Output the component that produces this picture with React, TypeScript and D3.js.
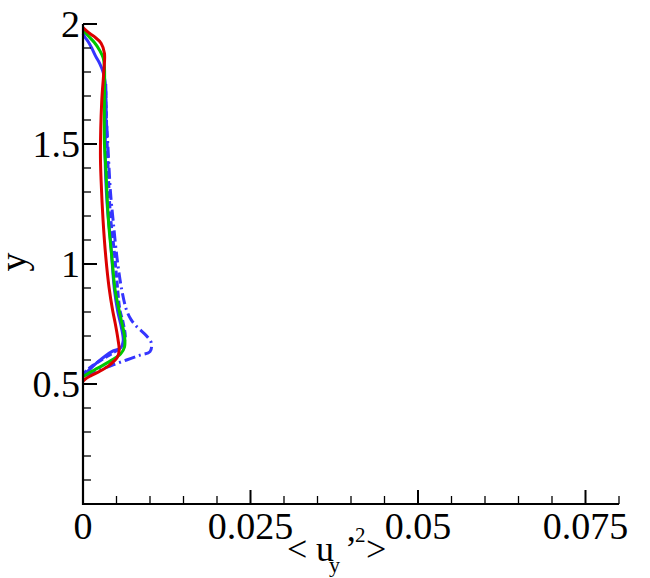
import React, { useRef, useEffect } from 'react';
import * as d3 from 'd3';

// profiles of <u_y'^2> against y
const redSolid: [number, number][] = [
  [0, 1.985], [0.0008, 1.965], [0.0017, 1.947], [0.0027, 1.92], [0.0032, 1.878],
  [0.0031, 1.8], [0.0028, 1.68], [0.0026, 1.46], [0.0027, 1.35], [0.003, 1.18],
  [0.0034, 1.03], [0.0039, 0.9], [0.0044, 0.81], [0.0048, 0.754], [0.0052, 0.69],
  [0.0054, 0.64], [0.0051, 0.61], [0.004, 0.58], [0.0025, 0.553], [0.0012, 0.535],
  [0.0004, 0.522], [0, 0.512],
];
const greenSolid: [number, number][] = [
  [0, 1.975], [0.0008, 1.95], [0.0017, 1.923], [0.0025, 1.89], [0.003, 1.86],
  [0.0032, 1.82], [0.0032, 1.7], [0.0032, 1.5], [0.0034, 1.4], [0.0038, 1.18],
  [0.0043, 1.03], [0.0048, 0.89], [0.0053, 0.82], [0.0057, 0.767], [0.0062, 0.7],
  [0.0062, 0.655], [0.0056, 0.625], [0.0036, 0.588], [0.0018, 0.56], [0.0008, 0.545],
  [0, 0.53],
];
const blueSolid: [number, number][] = [
  [0, 1.96], [0.0003, 1.945], [0.0008, 1.925], [0.0013, 1.9], [0.0019, 1.865],
  [0.0025, 1.835], [0.003, 1.8], [0.0033, 1.76], [0.0034, 1.72], [0.0034, 1.6],
  [0.0033, 1.45], [0.0036, 1.25], [0.0041, 1.1], [0.0047, 0.89], [0.0052, 0.8],
  [0.0057, 0.74], [0.006, 0.68], [0.0056, 0.65], [0.0043, 0.635], [0.002, 0.587],
  [0.0005, 0.548], [0, 0.538],
];
const blueDashed: [number, number][] = [
  [0.0034, 1.72], [0.0035, 1.6], [0.0037, 1.43], [0.0041, 1.2], [0.0046, 1.07],
  [0.005, 0.95], [0.0055, 0.81], [0.006, 0.754], [0.0063, 0.69], [0.0058, 0.656],
  [0.0045, 0.63], [0.003, 0.605], [0.0015, 0.578], [0.0005, 0.555], [0, 0.54],
];
const blueDashDot: [number, number][] = [
  [0.0034, 1.75], [0.0034, 1.67], [0.0037, 1.5], [0.0041, 1.3], [0.0045, 1.18],
  [0.0051, 1.02], [0.0058, 0.89], [0.0065, 0.808], [0.0072, 0.767], [0.008, 0.74],
  [0.0095, 0.7], [0.0102, 0.67], [0.01, 0.635], [0.0085, 0.62], [0.0065, 0.6],
  [0.0045, 0.58], [0.0025, 0.558], [0.0005, 0.537], [0, 0.53],
];

const xMajor = [0, 0.025, 0.05, 0.075];
const xLabels = ['0', '0.025', '0.05', '0.075'];
const yMajor = [0.5, 1, 1.5, 2];
const yLabels = ['0.5', '1', '1.5', '2'];

const FONT = '"Liberation Serif", "Times New Roman", serif';

const App = () => {
  const ref = useRef<SVGSVGElement>(null);

  useEffect(() => {
    const svg = d3.select(ref.current);
    svg.selectAll('*').remove();

    const x = d3.scaleLinear().domain([0, 0.08]).range([83, 619]);
    const y = d3.scaleLinear().domain([0, 2]).range([504, 24]);

    const line = d3.line<[number, number]>()
      .x(d => x(d[0]))
      .y(d => y(d[1]))
      .curve(d3.curveCatmullRom.alpha(0.5));

    const series = [
      { data: blueDashDot, color: '#3535ff', dash: '11,4,2,4' },
      { data: blueDashed, color: '#3535ff', dash: '7,3' },
      { data: blueSolid, color: '#3535ff', dash: null },
      { data: greenSolid, color: '#00c800', dash: null },
      { data: redSolid, color: '#dc0000', dash: null },
    ];

    svg.selectAll('path.curve')
      .data(series)
      .enter()
      .append('path')
      .attr('class', 'curve')
      .attr('fill', 'none')
      .attr('stroke', d => d.color)
      .attr('stroke-width', 3)
      .attr('stroke-dasharray', d => d.dash)
      .attr('d', d => line(d.data));

    // inward ticks
    const isMajor = (list: number[], v: number) => list.some(m => Math.abs(m - v) < 1e-6);
    const g = svg.append('g').attr('stroke', '#000');
    const xMinor = d3.range(0, 0.0801, 0.005);
    const yMinor = d3.range(0, 2.001, 0.1);
    g.selectAll('line.xt')
      .data(xMinor)
      .enter()
      .append('line')
      .attr('x1', d => x(d)).attr('x2', d => x(d))
      .attr('y1', y(0))
      .attr('y2', d => y(0) - (isMajor(xMajor, d) ? 14 : 8))
      .attr('stroke-width', d => (isMajor(xMajor, d) ? 2 : 1.3));
    g.selectAll('line.yt')
      .data(yMinor)
      .enter()
      .append('line')
      .attr('y1', d => y(d)).attr('y2', d => y(d))
      .attr('x1', x(0))
      .attr('x2', d => x(0) + (isMajor(yMajor, d) ? 14 : 8))
      .attr('stroke-width', d => (isMajor(yMajor, d) ? 2 : 1.3));

    // axis lines
    svg.append('path')
      .attr('d', `M${x(0)},${y(2)}V${y(0)}H${x(0.08)}`)
      .attr('fill', 'none')
      .attr('stroke', '#000')
      .attr('stroke-width', 2.2);

    svg.selectAll('text.xl')
      .data(xMajor)
      .enter()
      .append('text')
      .attr('x', d => x(d))
      .attr('y', 539)
      .attr('text-anchor', 'middle')
      .attr('font-family', FONT)
      .attr('font-size', 38)
      .text((d, i) => xLabels[i]);

    svg.selectAll('text.yl')
      .data(yMajor)
      .enter()
      .append('text')
      .attr('x', 80)
      .attr('y', d => y(d) + 13)
      .attr('text-anchor', 'end')
      .attr('font-family', FONT)
      .attr('font-size', 38)
      .text((d, i) => yLabels[i]);

    svg.append('text')
      .attr('transform', 'translate(26,262) rotate(-90)')
      .attr('text-anchor', 'middle')
      .attr('font-family', FONT)
      .attr('font-size', 38)
      .text('y');

    const xt = svg.append('text')
      .attr('y', 561)
      .attr('font-family', FONT)
      .attr('font-size', 36);
    xt.append('tspan').attr('x', 287).text('<');
    xt.append('tspan').attr('x', 316).text('u');
    xt.append('tspan').attr('x', 329).attr('y', 572).attr('font-size', 22).text('y');
    xt.append('tspan').attr('x', 345).attr('y', 561).text('\u2019');
    xt.append('tspan').attr('x', 355).attr('y', 542).attr('font-size', 21).text('2');
    xt.append('tspan').attr('x', 366).attr('y', 561).text('>');
  }, []);

  return (
    <svg
      ref={ref}
      width={650}
      height={578}
      style={{ position: 'absolute', left: 0, top: 0, background: '#fff' }}
    />
  );
};

export default App;
